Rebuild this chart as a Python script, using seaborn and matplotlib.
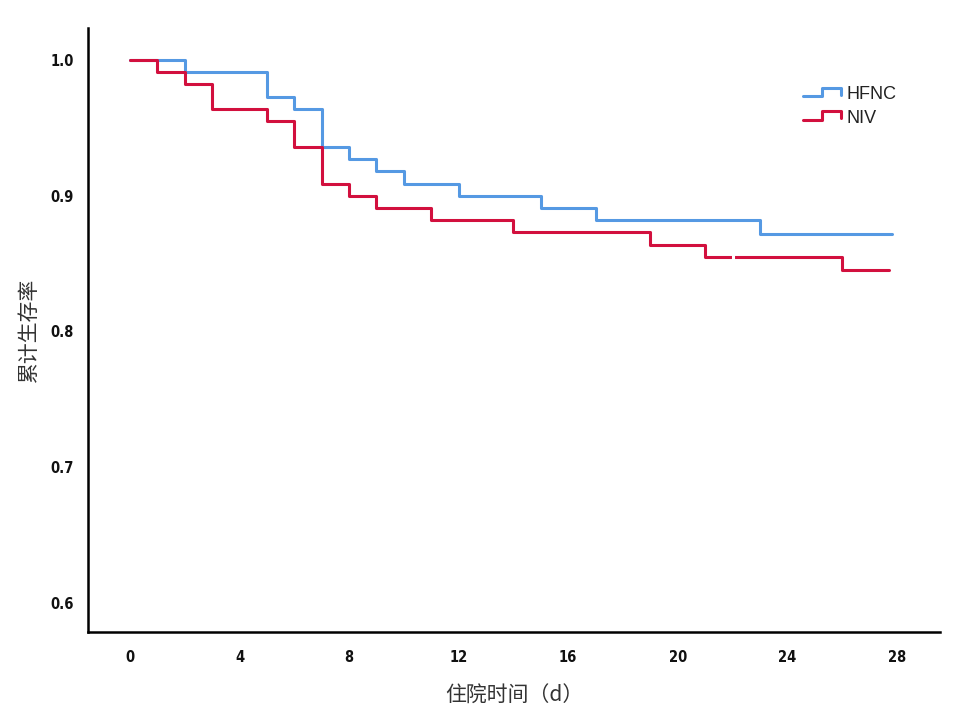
import matplotlib
matplotlib.use("Agg")
import matplotlib.pyplot as plt
import seaborn as sns
import pandas as pd
from matplotlib.lines import Line2D
from matplotlib.legend_handler import HandlerLine2D

# ---- data ----
hfnc_time = [0, 2, 5, 6, 7, 8, 9, 10, 12, 15, 17, 23, 27.8]
hfnc_surv = [1.0, 0.991, 0.973, 0.964, 0.936, 0.927, 0.918, 0.909, 0.900, 0.891, 0.882, 0.872, 0.872]
niv_time = [0, 1, 2, 3, 5, 6, 7, 8, 9, 11, 14, 19, 21, 26, 27.7]
niv_surv = [1.0, 0.991, 0.982, 0.964, 0.955, 0.936, 0.909, 0.900, 0.891, 0.882, 0.873, 0.864, 0.855, 0.845, 0.845]
niv_censor_time = [22]
niv_censor_surv = [0.855]
groups = ["HFNC", "NIV"]
colors = ["#5599e3", "#d2103e"]
x_ticks = [0, 4, 8, 12, 16, 20, 24, 28]
y_ticks = [0.6, 0.7, 0.8, 0.9, 1.0]
x_label = "住院时间（d）"
y_label = "累计生存率"

df = pd.concat([
    pd.DataFrame({"t": hfnc_time, "s": hfnc_surv, "g": groups[0]}),
    pd.DataFrame({"t": niv_time, "s": niv_surv, "g": groups[1]}),
], ignore_index=True)

sns.set_theme(style="white")
plt.rcParams["font.family"] = ["Noto Sans CJK SC", "DejaVu Sans"]

fig = plt.figure(figsize=(9.6, 7.18), dpi=100)
ax = fig.add_axes([88/960, (718-632)/718, (940-88)/960, (632-28)/718])

sns.lineplot(data=df, x="t", y="s", hue="g", palette=dict(zip(groups, colors)),
             drawstyle="steps-post", estimator=None, linewidth=2.2, ax=ax, legend=False)
sns.scatterplot(x=niv_censor_time, y=niv_censor_surv, marker="|", s=20, color="white",
                linewidth=2.2, ax=ax, zorder=5, legend=False)

ax.set_xlim(-1.53, 29.57)
ax.set_ylim(0.5786, 1.0236)
ax.set_xticks(x_ticks)
ax.set_yticks(y_ticks)
ax.set_xticklabels([str(v) for v in x_ticks])
ax.set_yticklabels([f"{v:.1f}" for v in y_ticks])
for lab in ax.get_xticklabels() + ax.get_yticklabels():
    lab.set_fontfamily(["DejaVu Sans"])
    lab.set_fontstretch("condensed")
    lab.set_fontweight("bold")
    lab.set_fontsize(10.5)
    lab.set_color("#111111")
ax.tick_params(axis="x", direction="in", length=7, width=1, color="#bbbbbb", pad=13)
ax.tick_params(axis="y", direction="in", length=4, width=1, color="#bbbbbb", pad=10)

for side in ["top", "right"]:
    ax.spines[side].set_visible(False)
for side in ["left", "bottom"]:
    ax.spines[side].set_color("black")
    ax.spines[side].set_linewidth(1.8)

ax.set_xlabel(x_label, fontsize=15, color="#333333", labelpad=14)
ax.set_ylabel(y_label, fontsize=15, color="#333333", labelpad=8)

class StepHandler(HandlerLine2D):
    def create_artists(self, legend, orig_handle, xdescent, ydescent, width, height, fontsize, trans):
        x0, x1 = -xdescent, -xdescent + width
        ym = height / 2 - ydescent
        xs = [x0, x0 + width * 0.5, x0 + width * 0.5, x1, x1]
        ys = [ym - height * 0.25, ym - height * 0.25, ym + height * 0.4, ym + height * 0.4, ym - height * 0.15]
        ln = Line2D(xs, ys, color=orig_handle.get_color(), linewidth=orig_handle.get_linewidth())
        ln.set_transform(trans)
        return [ln]

handles = [Line2D([], [], color=c, linewidth=2.2) for c in colors]
leg = ax.legend(handles, groups, loc="upper left", bbox_to_anchor=(0.824, 0.925),
                frameon=False, handler_map={Line2D: StepHandler()},
                handlelength=2.1, handletextpad=0.3, labelspacing=0.38, borderpad=0.2,
                prop={"family": ["Liberation Sans", "DejaVu Sans"], "size": 13})
for t in leg.get_texts():
    t.set_color("#222222")

fig.savefig("out.png", dpi=100)
